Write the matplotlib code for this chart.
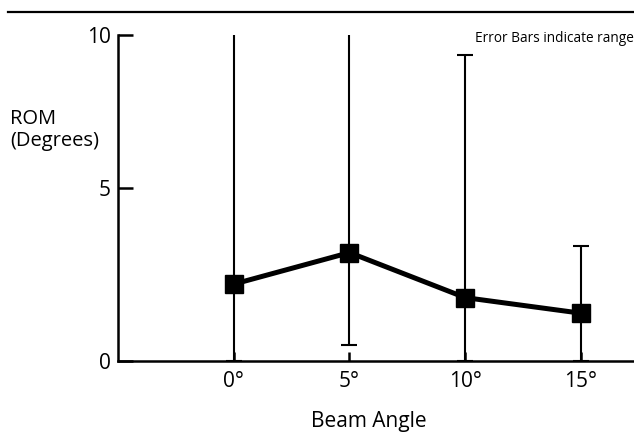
import numpy as np
import matplotlib
matplotlib.use('Agg')
import matplotlib.pyplot as plt
from matplotlib.lines import Line2D

plt.rcParams['font.family'] = ['Open Sans', 'DejaVu Sans']

angles = [0, 5, 10, 15]
angle_labels = ['0°', '5°', '10°', '15°']
rom_mean = [2.22, 3.13, 1.83, 1.38]
rom_low = [0.0, 0.47, 0.0, 0.0]
rom_high = [11.0, 11.0, 9.36, 3.32]
yticks = [0, 5, 10]

# the reference y axis is squeezed above 5
k = 152.7 / 173.0
def fwd(v):
    v = np.asarray(v, dtype=float)
    return np.where(v <= 5, v, 5 + (v - 5) * k)
def inv(v):
    v = np.asarray(v, dtype=float)
    return np.where(v <= 5, v, 5 + (v - 5) / k)

fig = plt.figure(figsize=(6.34, 4.34), dpi=100)
ax = fig.add_axes([118/634, 73/434, 516/634, 326/434])
ax.set_yscale('function', functions=(fwd, inv))

mean = np.array(rom_mean)
yerr = [mean - np.array(rom_low), np.array(rom_high) - mean]
ax.errorbar(angles, rom_mean, yerr=yerr, fmt='none', ecolor='black',
            elinewidth=1.5, capsize=5.5, capthick=1.5)
ax.plot(angles, rom_mean, color='black', lw=3.6, marker='s', ms=12.5,
        solid_joinstyle='miter')

ax.set_xlim(-5, 17.29)
ax.set_ylim(0, 10)
ax.spines['top'].set_visible(False)
ax.spines['right'].set_visible(False)
ax.spines['left'].set_linewidth(1.8)
ax.spines['bottom'].set_linewidth(1.8)
ax.spines['left'].set_bounds(0, 10)

ax.set_yticks(yticks)
ax.set_yticklabels([str(t) for t in yticks])
ax.set_xticks(angles)
ax.set_xticklabels(angle_labels)
ax.tick_params(axis='y', direction='in', length=11, width=1.8, pad=5, labelsize=15)
ax.tick_params(axis='x', direction='in', length=6.5, width=1.8, pad=7, labelsize=15)
ax.yaxis.minorticks_off()

fig.text(10/634, 1 - 130/434, 'ROM\n(Degrees)', fontsize=14.5, ha='left', va='center',
         linespacing=1.12)
fig.text(369/634, 1 - 421/434, 'Beam Angle', fontsize=15, ha='center', va='center')
fig.text(634/634, 1 - 38/434, 'Error Bars indicate range', fontsize=9.8,
         ha='right', va='center')
fig.add_artist(Line2D([8/634, 1], [1 - 12/434, 1 - 12/434], color='black', lw=1.6,
                      transform=fig.transFigure))

fig.savefig('out.png', dpi=100)
